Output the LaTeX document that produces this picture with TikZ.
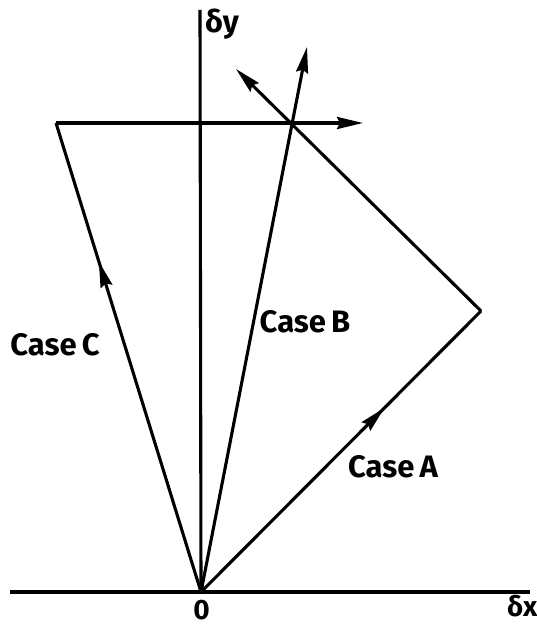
\documentclass[tikz,border=0pt]{standalone}
\usepackage{fontspec}
\setmainfont{Fira Sans}
\usetikzlibrary{arrows.meta,decorations.markings}
\begin{document}
\begin{tikzpicture}[x=1pt,y=-1pt,
  ln/.style={line width=3.1pt},
  tip/.style={-{Stealth[length=26pt,width=12pt,inset=3pt]}},
  lbl/.style={inner sep=0pt,font=\fontsize{31}{31}\selectfont\bfseries},
  small/.style={inner sep=0pt,font=\fontsize{28}{28}\selectfont\bfseries},
  midarrow/.style={postaction={decorate},decoration={markings,
     mark=at position #1 with {\arrow{Stealth[length=26pt,width=12pt,inset=3pt]}}}}]
\useasboundingbox (0,0) rectangle (537,628);
% points
\coordinate (O) at (201,592);
\coordinate (X0) at (10,592);
\coordinate (X1) at (530,592);
\coordinate (Y1) at (200,10);
\coordinate (A1) at (481,311);
\coordinate (A2) at (236,69);
\coordinate (B) at (307,47);
\coordinate (C1) at (56,123);
\coordinate (C2) at (363,123);
% axes
\draw[ln] (X0) -- (X1);
\draw[ln] (O) -- (Y1);
% Case A
\draw[ln,midarrow=0.655] (O) -- (A1);
\draw[ln,tip] (A1) -- (A2);
% Case B
\draw[ln,tip] (O) -- (B);
% Case C
\draw[ln,midarrow=0.705] (O) -- (C1);
\draw[ln,tip] (C1) -- (C2);
% labels
\node[lbl] (la) at (393,467) {Case\,A};
\node[lbl] (lb) at (305,322) {Case\,B};
\node[lbl] (lc) at (55,345) {Case\,C};
\node[lbl,anchor=base west] (ly) at (205,33) {δy};
\node[small,anchor=base west] (lx) at (507,616) {δx};
\node[small] (l0) at (201.5,610) {0};
\end{tikzpicture}
\end{document}
